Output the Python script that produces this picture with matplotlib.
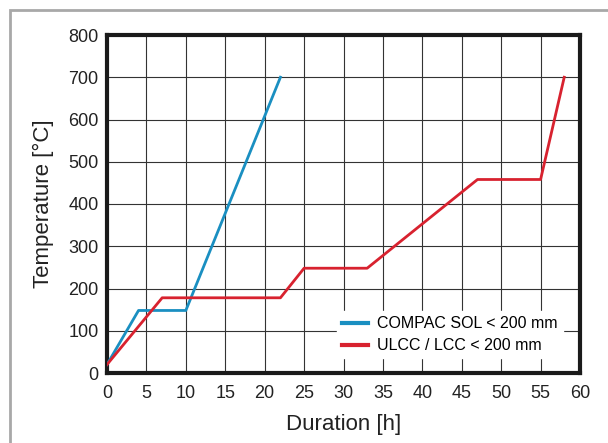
import matplotlib.pyplot as plt
from matplotlib.patches import Rectangle

compac_h = [0, 4, 10, 22]
compac_t = [20, 148, 148, 700]
ulcc_h = [0, 7, 22, 25, 33, 47, 55, 58]
ulcc_t = [20, 178, 178, 248, 248, 458, 458, 700]
x_ticks = list(range(0, 61, 5))
y_ticks = list(range(0, 801, 100))

plt.rcParams['font.family'] = ['Liberation Sans', 'DejaVu Sans']

fig = plt.figure(figsize=(6.08, 4.43), dpi=100)
fig.patches.append(Rectangle((10 / 608, -0.1), 1.2, 0.1 + 1 - 10 / 443,
                             transform=fig.transFigure, fill=False,
                             edgecolor='#a8a8a8', linewidth=2))
ax = fig.add_axes([107 / 608, 1 - 373 / 443, (580 - 107) / 608, (373 - 35) / 443])

ax.plot(compac_h, compac_t, color='#1a8fc1', lw=2, label='COMPAC SOL < 200 mm', zorder=3)
ax.plot(ulcc_h, ulcc_t, color='#d8222f', lw=2, label='ULCC / LCC < 200 mm', zorder=3)

ax.set_xlim(0, 60)
ax.set_ylim(0, 800)
ax.set_xticks(x_ticks)
ax.set_yticks(y_ticks)
ax.grid(True, color='#333333', lw=0.8)
ax.set_axisbelow(True)
ax.tick_params(length=0, labelsize=13, colors='#222222')
ax.tick_params(axis='x', pad=9)
ax.tick_params(axis='y', pad=6)
for s in ax.spines.values():
    s.set_linewidth(3)
    s.set_color('#1a1a1a')

ax.set_xlabel('Duration [h]', fontsize=16, color='#222222', labelpad=8)
ax.set_ylabel('Temperature [°C]', fontsize=16, color='#222222', labelpad=10)

leg = ax.legend(loc='lower right', bbox_to_anchor=(0.98, 0.02), frameon=True,
                fontsize=11.5, handlelength=1.6, handletextpad=0.6,
                borderpad=0.3, labelspacing=0.45, fancybox=False)
leg.get_frame().set_edgecolor('white')
leg.get_frame().set_facecolor('white')
leg.get_frame().set_alpha(1)
for line in leg.get_lines():
    line.set_linewidth(3)

fig.savefig('out.png', dpi=100)
